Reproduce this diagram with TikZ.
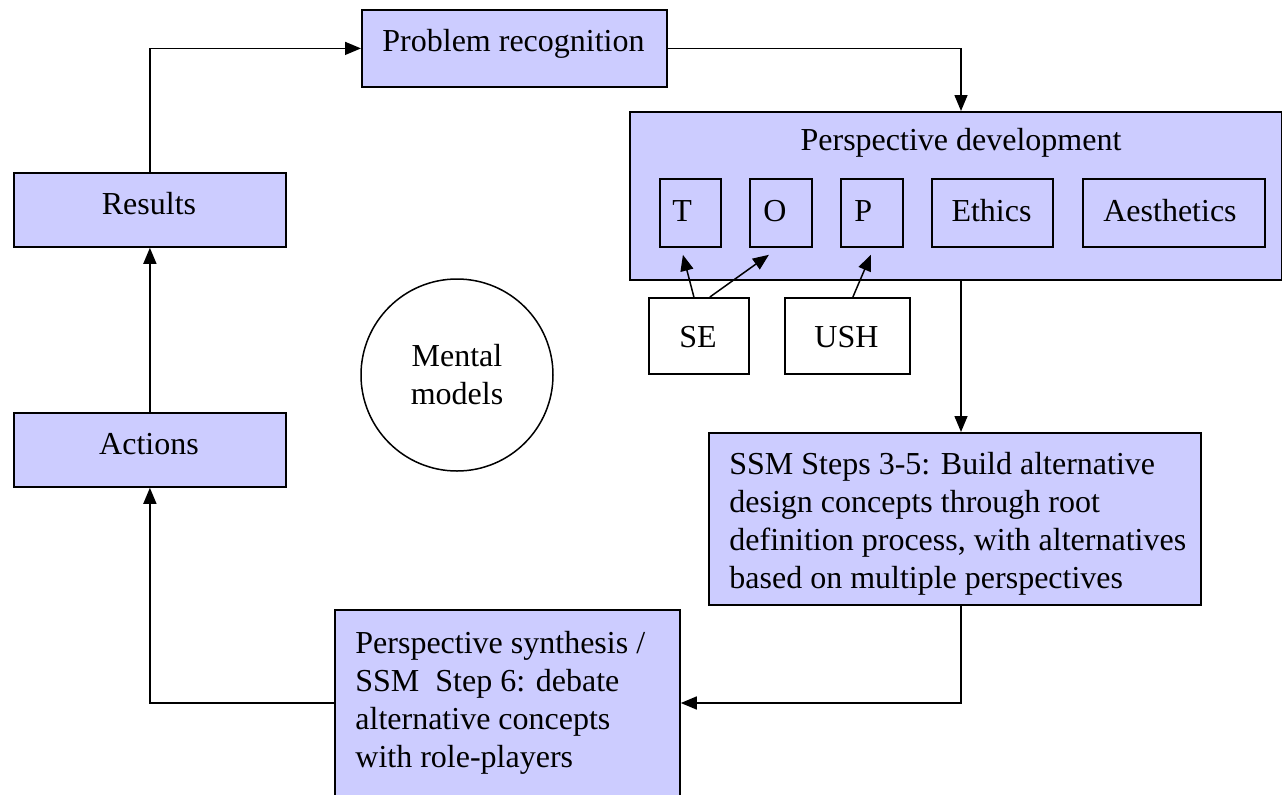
\documentclass[tikz,border=0pt]{standalone}
\usepackage{fontspec}
\setmainfont{Liberation Serif}
\usetikzlibrary{arrows.meta}
\definecolor{boxfill}{RGB}{204,204,255}
\begin{document}
\begin{tikzpicture}[x=0.5pt,y=-0.5pt,
  font=\fontsize{16}{19}\selectfont,
  box/.style={draw=black, line width=0.9pt, fill=boxfill, inner sep=0pt, anchor=north west},
  wbox/.style={draw=black, line width=0.9pt, fill=white, inner sep=0pt, anchor=north west},
  txt/.style={inner sep=0pt},
  arr/.style={line width=0.75pt, -{Triangle[length=8pt,width=6.5pt]}}]
\useasboundingbox (0,0) rectangle (1282,794);
% main boxes
\node[box, minimum width=152.5pt, minimum height=38.5pt] (prob) at (361,9) {};
\node[txt] (probt) at (513.5,44) {Problem recognition};
\node[box, minimum width=136pt, minimum height=37pt] (res) at (13,172) {};
\node[txt] (rest) at (149,204) {Results};
\node[box, minimum width=136pt, minimum height=37pt] (act) at (13,412) {};
\node[txt] (actt) at (149,444) {Actions};
\node[box, minimum width=326pt, minimum height=84pt] (persp) at (629,111) {};
\node[txt] (perspt) at (961,143) {Perspective development};
% inner perspective boxes
\node[box, minimum width=30.5pt, minimum height=34pt] (tb) at (659,178) {};
\node[txt, anchor=west] (tt) at (672,211) {T};
\node[box, minimum width=31pt, minimum height=34pt] (ob) at (749,178) {};
\node[txt, anchor=west] (ot) at (763,211) {O};
\node[box, minimum width=31pt, minimum height=34pt] (pb) at (840,178) {};
\node[txt, anchor=west] (pt) at (854,211) {P};
\node[box, minimum width=60.5pt, minimum height=34pt] (eb) at (931,178) {};
\node[txt] (et) at (991.5,211) {Ethics};
\node[box, minimum width=91pt, minimum height=34pt] (ab) at (1082,178) {};
\node[txt] (at) at (1170,211) {Aesthetics};
% SE / USH
\node[wbox, minimum width=50pt, minimum height=38pt] (se) at (648,297) {};
\node[txt] (set) at (698,337) {SE};
\node[wbox, minimum width=62.5pt, minimum height=38pt] (ush) at (784,297) {};
\node[txt] (usht) at (846.5,337) {USH};
% mental models
\node[draw, circle, line width=0.75pt, minimum size=96pt, inner sep=0pt, align=center] (mm) at (457,375) {Mental\\models};
% SSM box
\node[box, minimum width=246pt, minimum height=86pt] (ssm) at (708,432) {};
\node[txt, anchor=north west, align=left] (ssmt) at (729,452) {SSM Steps 3-5: Build alternative\\design concepts through root\\definition process, with alternatives\\based on multiple perspectives};
% synthesis box
\node[box, minimum width=172.5pt, minimum height=110pt] (syn) at (334,609) {};
\node[txt, anchor=north west, align=left] (synt) at (355,631) {Perspective synthesis /\\SSM\ \ Step 6: debate\\alternative concepts\\with role-players};
% helper coordinates
\coordinate (vx) at (961,0);
\coordinate (hy) at (0,703);
% connectors
\draw[arr] (res.north) |- (prob.west);
\draw[arr] (prob.east) -| (persp.north -| vx);
\draw[arr] (persp.south -| vx) -- (ssm.north -| vx);
\draw[arr] (ssm.south -| vx) |- (syn.east |- hy);
\draw[arr] (syn.west |- hy) -| (act.south);
\draw[arr] (act.north) -- (res.south);
\draw[arr] ([xshift=-2.5pt]se.north) -- ([xshift=-3.75pt,yshift=-3.5pt]tb.south);
\draw[arr] ([xshift=5.5pt]se.north) -- ([xshift=-6pt,yshift=-3.5pt]ob.south);
\draw[arr] ([xshift=2.75pt]ush.north) -- ([xshift=-0.5pt,yshift=-3.5pt]pb.south);
\end{tikzpicture}
\end{document}
